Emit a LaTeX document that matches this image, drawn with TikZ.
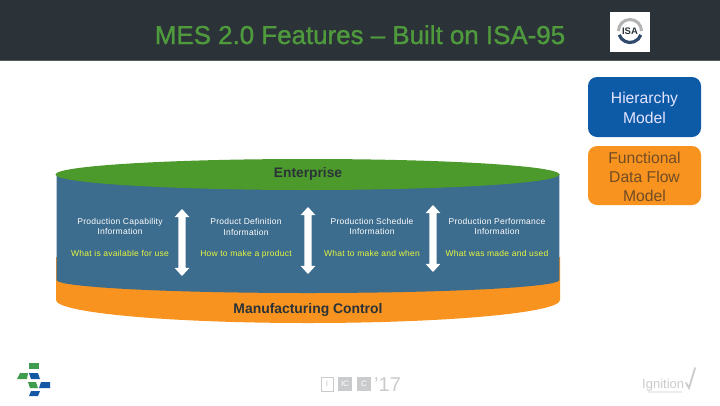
\documentclass[tikz,border=0pt]{standalone}
\usepackage{fontspec}
\setmainfont{Liberation Sans}
\usetikzlibrary{shapes.arrows}
\definecolor{hdr}{HTML}{2B3338}
\definecolor{ttl}{HTML}{4F9A3C}
\definecolor{cylblue}{HTML}{3C6C8E}
\definecolor{cylgreen}{HTML}{4C9A2C}
\definecolor{cylorange}{HTML}{F7931E}
\definecolor{btnblue}{HTML}{0D5AA7}
\definecolor{yel}{HTML}{E8F83C}
\definecolor{lgrey}{HTML}{C9CBCC}
\definecolor{sgreen}{HTML}{3F9B4E}
\definecolor{sblue}{HTML}{1457A5}
\definecolor{navy}{HTML}{2F4A6B}
\tikzset{
  small/.style={anchor=base,inner sep=0pt,font=\fontsize{8.5}{10}\selectfont\addfontfeature{LetterSpace=3}},
  info/.style={small,text=white},
  what/.style={small,text=yel},
  updown/.style={double arrow,fill=white,inner xsep=0pt,inner ysep=3.5pt,rotate=90,
    double arrow head extend=3.7pt,double arrow head indent=0pt,double arrow tip angle=85},
  btn/.style={rounded corners=9pt},
  btntext/.style={anchor=base,inner sep=0pt,font=\fontsize{15.7}{18}\selectfont},
  logobox/.style={fill=sgreen},
  logoboxb/.style={fill=sblue}
}
\begin{document}
\begin{tikzpicture}[x=1pt,y=-1pt]
\useasboundingbox (0,0) rectangle (720,405);
\fill[white] (0,0) rectangle (720,405);
% header
\fill[hdr] (0,0) rectangle (720,60);
\fill[hdr!80!white] (0,60) rectangle (720,61);
\node[anchor=base,inner sep=0pt,text=ttl,font=\fontsize{25.9}{30}\selectfont\addfontfeature{FakeBold=1.2}] (title) at (360,44) {MES 2.0 Features – Built on ISA-95};
% ISA logo
\fill[white] (610,12) rectangle (650,52);
\draw[line width=3pt,color=gray!60] (618.5,31) arc[start angle=180,end angle=0,radius=11.5pt];
\draw[line width=3.2pt,color=navy] (619.2,34.9) arc[start angle=200,end angle=340,radius=11.5pt];
\node[inner sep=0pt,font=\fontsize{9.5}{10}\selectfont\bfseries,text=hdr] (isa) at (630,31.5) {ISA};
% buttons
\fill[btnblue,btn] (588,77) rectangle (701,137);
\node[btntext,text=white!90!blue] (h1) at (644.5,103) {Hierarchy};
\node[btntext,text=white!90!blue] (h2) at (644.5,123) {Model};
\fill[cylorange,btn] (588,146) rectangle (701,205);
\node[btntext,text=brown!60!black] (f1) at (644.5,163) {Functional};
\node[btntext,text=brown!60!black] (f2) at (644.5,182) {Data Flow};
\node[btntext,text=brown!60!black] (f3) at (644.5,201) {Model};
% cylinder
\fill[cylorange] (56,257) -- (56,300) arc[start angle=180,end angle=360,x radius=252pt,y radius=23pt] -- (560,257) -- cycle;
\fill[cylblue] (56.6,174) -- (56.6,280) arc[start angle=180,end angle=360,x radius=251.4pt,y radius=13pt] -- (559.4,174) -- cycle;
\fill[cylgreen] (307.5,174.5) ellipse[x radius=252pt,y radius=15.5pt];
\node[anchor=base,inner sep=0pt,text=hdr,font=\fontsize{13.8}{15}\selectfont\bfseries] (ent) at (308,177) {Enterprise};
\node[anchor=base,inner sep=0pt,text=hdr,font=\fontsize{13.9}{15}\selectfont\bfseries] (mc) at (308,313) {Manufacturing Control};
% arrows
\node[updown,minimum height=67pt] (a1) at (182,242.5) {};
\node[updown,minimum height=67pt] (a2) at (308,240.5) {};
\node[updown,minimum height=67pt] (a3) at (433,238.5) {};
% texts
\node[info] (c1a) at (120,224) {Production Capability};
\node[info] (c1b) at (120,234) {Information};
\node[what] (c1c) at (120,256) {What is available for use};
\node[info] (c2a) at (246,224) {Product Definition};
\node[info] (c2b) at (246,235) {Information};
\node[what] (c2c) at (246,256) {How to make a product};
\node[info] (c3a) at (372,224) {Production Schedule};
\node[info] (c3b) at (372,234) {Information};
\node[what] (c3c) at (372,256) {What to make and when};
\node[info] (c4a) at (497,224) {Production Performance};
\node[info] (c4b) at (497,234) {Information};
\node[what] (c4c) at (497,256) {What was made and used};
% S logo
\fill[logobox] (29,363) -- (39,363) -- (39,369) -- (29,369) -- cycle;
\fill[logobox] (20,373) -- (28,373) -- (27,379) -- (17,379) -- cycle;
\fill[logoboxb] (29,373) -- (38,373) -- (40,379) -- (31,379) -- cycle;
\fill[logobox] (28,382) -- (36,382) -- (38,388) -- (30,388) -- cycle;
\fill[logoboxb] (41,382) -- (50,382) -- (50,388) -- (39,388) -- cycle;
\fill[logoboxb] (31,391) -- (40,391) -- (38,396) -- (29,396) -- cycle;
% ICC logo
\draw[lgrey,line width=.7pt] (321,377) rectangle (333,391);
\node[inner sep=0pt,text=lgrey,font=\fontsize{8}{8}\selectfont] (l1) at (327,384) {I};
\fill[lgrey] (338,377) rectangle (352,391);
\node[inner sep=0pt,text=white,font=\fontsize{8}{8}\selectfont] (l2) at (345,384) {IC};
\fill[lgrey] (357,377) rectangle (371,391);
\node[inner sep=0pt,text=white,font=\fontsize{8}{8}\selectfont] (l3) at (364,384) {C};
\node[anchor=base west,inner sep=0pt,text=lgrey,font=\fontsize{20}{22}\selectfont] (l4) at (374,391) {’17};
% Ignition logo
\node[anchor=base west,inner sep=0pt,text=lgrey,font=\fontsize{13}{14}\selectfont] (ign) at (642,388) {Ignition};
\draw[lgrey,line width=1.8pt,line cap=round] (686,383) -- (689,388) -- (695,368);
\draw[gray!15,line width=1.2pt] (648,392) -- (682,392);
\end{tikzpicture}
\end{document}
